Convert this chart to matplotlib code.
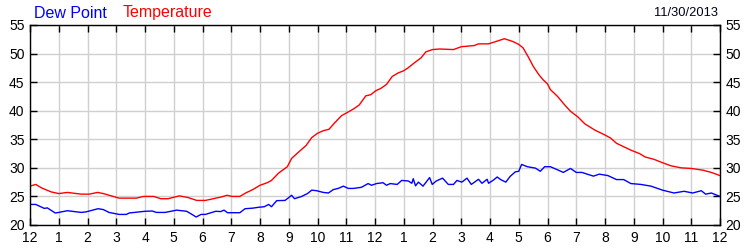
import matplotlib
matplotlib.use('Agg')
import matplotlib.pyplot as plt
import numpy as np

plt.rcParams['font.family'] = ['Liberation Sans', 'DejaVu Sans']

# hours since midnight
temp_hours = [0.0, 0.2, 0.4, 0.73, 1.0, 1.3, 1.78, 2.06, 2.35, 2.55, 3.1, 3.7, 3.95, 4.3, 4.55, 4.8, 5.2, 5.5, 5.8, 6.1,
	6.65, 6.85, 7.03, 7.3, 7.5, 7.75, 8.0, 8.25, 8.4, 8.65, 8.95, 9.1, 9.35, 9.6, 9.8, 10.0, 10.2, 10.4,
	10.6, 10.84, 11.04, 11.25, 11.45, 11.68, 11.85, 12.03, 12.2, 12.4, 12.6, 12.8, 13.0, 13.15, 13.4, 13.6,
	13.77, 14.0, 14.25, 14.73, 15.0, 15.45, 15.6, 15.95, 16.2, 16.5, 16.8, 17.0, 17.15, 17.35, 17.5, 17.7,
	17.85, 18.0, 18.1, 18.35, 18.6, 18.8, 19.06, 19.3, 19.65, 20.0, 20.2, 20.4, 20.65, 20.9, 21.2, 21.4,
	21.7, 22.0, 22.3, 22.65, 23.0, 23.4, 23.7, 24.0]
temperature = [26.8, 27.1, 26.5, 25.8, 25.5, 25.7, 25.4, 25.4, 25.7, 25.5, 24.7, 24.7, 25.0, 25.0, 24.6, 24.6, 25.1, 24.8, 24.3, 24.3,
	24.9, 25.2, 25.0, 25.0, 25.6, 26.2, 26.95, 27.4, 27.8, 29.1, 30.2, 31.65, 32.8, 33.9, 35.3, 36.05, 36.5, 36.75,
	37.9, 39.15, 39.7, 40.3, 41.0, 42.6, 42.8, 43.5, 43.9, 44.6, 46.0, 46.6, 47.0, 47.5, 48.5, 49.25,
	50.3, 50.7, 50.8, 50.7, 51.2, 51.4, 51.7, 51.7, 52.1, 52.6, 52.1, 51.6, 51.0, 49.25, 47.8, 46.3,
	45.4, 44.7, 43.7, 42.5, 41.0, 39.9, 38.9, 37.7, 36.6, 35.75, 35.2, 34.3, 33.7, 33.1, 32.5, 31.9,
	31.5, 30.9, 30.35, 30.0, 29.9, 29.6, 29.2, 28.65]

dew_hours = [0.0, 0.2, 0.5, 0.6, 0.88, 1.0, 1.3, 1.78, 1.95, 2.37, 2.55, 2.75, 3.1, 3.35, 3.45, 4.0, 4.25, 4.4, 4.7, 5.1, 5.45,
	5.65, 5.78, 5.95, 6.1, 6.46, 6.63, 6.75, 6.87, 7.3, 7.48, 7.75, 7.95, 8.15, 8.3, 8.4, 8.58, 8.87, 9.0, 9.1, 9.2,
	9.45, 9.65, 9.8, 9.97, 10.2, 10.38, 10.55, 10.72, 10.9, 11.07, 11.25, 11.53, 11.76, 11.88, 12.05, 12.28,
	12.4, 12.53, 12.77, 12.93, 13.16, 13.28, 13.33, 13.41, 13.51, 13.67, 13.9, 13.99, 14.13, 14.35, 14.55,
	14.73, 14.85, 15.02, 15.2, 15.35, 15.6, 15.72, 15.9, 15.95, 16.13, 16.25, 16.37, 16.55, 16.7, 16.88, 17.0,
	17.1, 17.3, 17.58, 17.75, 17.9, 18.1, 18.33, 18.55, 18.8, 19.0, 19.2, 19.38, 19.6, 19.8, 20.1, 20.4,
	20.65, 20.9, 21.25, 21.6, 22.0, 22.4, 22.75, 23.05, 23.35, 23.5, 23.7, 24.0]
dew_point = [23.6, 23.6, 22.9, 23.0, 22.1, 22.2, 22.5, 22.2, 22.3, 22.85, 22.7, 22.2, 21.85, 21.85, 22.1, 22.4, 22.45, 22.2, 22.2, 22.6, 22.4,
	21.8, 21.4, 21.85, 21.85, 22.4, 22.35, 22.6, 22.15, 22.15, 22.85, 22.95, 23.1, 23.2, 23.6, 23.2, 24.26, 24.3, 24.8, 25.2, 24.6,
	25.0, 25.5, 26.1, 26.0, 25.7, 25.6, 26.2, 26.4, 26.8, 26.4, 26.4, 26.6, 27.25, 26.95, 27.25, 27.4,
	26.95, 27.25, 27.1, 27.8, 27.7, 27.3, 28.1, 26.85, 27.5, 26.8, 28.3, 27.1, 27.7, 28.2, 27.1,
	27.1, 27.8, 27.5, 28.2, 27.1, 28.0, 27.3, 28.0, 27.3, 27.9, 28.4, 27.95, 27.5, 28.5, 29.3, 29.4,
	30.6, 30.2, 29.95, 29.4, 30.2, 30.2, 29.7, 29.2, 29.9, 29.2, 29.2, 28.9, 28.55, 28.9, 28.65, 27.95,
	27.95, 27.25, 27.1, 26.8, 26.1, 25.6, 25.9, 25.6, 26.0, 25.4, 25.6, 25.0]

hour_labels = ['12', '1', '2', '3', '4', '5', '6', '7', '8', '9', '10', '11',
	'12', '1', '2', '3', '4', '5', '6', '7', '8', '9', '10', '11', '12']
y_ticks = [20, 25, 30, 35, 40, 45, 50, 55]
date_text = '11/30/2013'

fig = plt.figure(figsize=(7.5, 2.5), dpi=100)
ax = fig.add_axes([0.04, 0.1, 0.92, 0.8])

ax.plot(temp_hours, temperature, color='#ff0000', linewidth=1)
ax.plot(dew_hours, dew_point, color='#0000ff', linewidth=1)

ax.set_xlim(0, 24)
ax.set_ylim(20, 55)
ax.set_xticks(np.arange(len(hour_labels)))
ax.set_xticklabels(hour_labels)
ax.set_yticks(y_ticks)
ax.grid(True, color='#d0d0d0', linewidth=1)
ax.set_axisbelow(True)
ax.tick_params(axis='both', direction='in', length=5, width=1, labelsize=10,
	top=True, right=True, labelright=True, pad=4)
for s in ax.spines.values():
	s.set_linewidth(1)

# legend-like titles
fig.text(34 / 750, 1 - 13 / 250, 'Dew Point', color='#0000ff', fontsize=11.5, va='center', ha='left')
fig.text(123 / 750, 1 - 13 / 250, 'Temperature', color='#ff0000', fontsize=11.5, va='center', ha='left')
fig.text(718 / 750, 1 - 13 / 250, date_text, color='#000020', fontsize=9.3, va='center', ha='right')

plt.savefig('out.png', dpi=100)
